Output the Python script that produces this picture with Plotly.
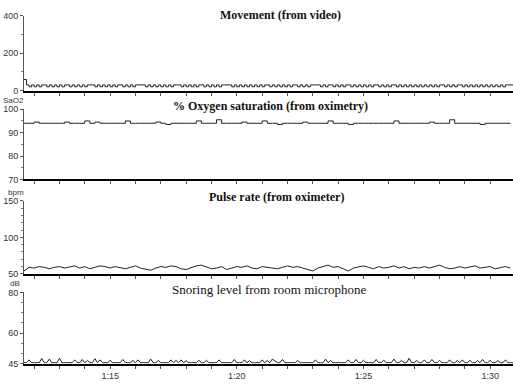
import numpy as np
import plotly.graph_objects as go

# time in minutes after 1:00 (71.6 -> 1:11:36)
T0 = 71.6
tick_vals = [75, 80, 85, 90]
tick_text = ["1:15", "1:20", "1:25", "1:30"]

movement = [60, 31, 21, 31, 21, 31, 21, 31, 31, 21, 31, 21, 31, 21, 31, 21, 31, 31, 21, 31,
            21, 31, 21, 31, 21, 31, 31, 31, 21, 31, 21, 31, 21, 31, 21, 31, 21, 31, 31, 21,
            31, 21, 31, 21, 31, 31, 31, 31, 21, 31, 21, 31, 21, 31, 21, 31, 21, 31, 21, 31,
            31, 31, 21, 31, 21, 31, 21, 31, 21, 31, 31, 21, 31, 21, 31, 21, 31, 21, 31, 31,
            31, 31, 21, 31, 21, 31, 21, 31, 21, 31, 21, 31, 21, 31, 21, 31, 31, 21, 31, 21,
            31, 21, 31, 21, 31, 21, 31, 31, 21, 31, 21, 31, 21, 31, 31, 31, 31, 21, 31, 21,
            31, 31, 21, 31, 21, 31, 21, 31, 31, 21, 31, 21, 31, 21, 31, 21, 31, 21, 31, 31,
            21, 31, 21, 31, 21, 31, 31, 21, 31, 21, 31, 21, 31, 21, 31, 21, 31, 21, 31, 21,
            31, 21, 31, 21, 31, 31, 21, 31, 21, 31, 21, 31, 31, 21, 31, 21, 31, 21, 31, 21,
            31, 21, 31, 21, 31, 21, 31, 21, 31, 21, 31, 31, 31, 31, 31, 31]

sao2 = [94, 94, 94.5, 94, 94, 94, 94, 94, 94.5, 94, 94, 94, 95, 94, 94.5, 94, 94, 94, 94, 94,
        95, 94, 94, 94, 94, 94, 94.5, 94, 93.5, 94, 94, 94, 94, 94, 95, 94, 94, 94, 95.5, 94,
        94, 94, 94, 94.5, 94, 94, 94, 95, 94, 94, 93.5, 94, 94, 94, 94, 94.5, 94, 94, 94, 94,
        95, 94, 94, 94, 93.5, 94, 94, 94, 94, 94, 94, 94, 94, 95, 94, 94, 94, 94, 94, 94,
        94.5, 94, 94, 94, 95.5, 94, 94, 94, 94, 94, 93.5, 94, 94, 94, 94, 94, 94]

pulse = [54, 59, 58, 60, 59, 57, 59, 60, 58, 59, 61, 58, 60, 57, 59, 61, 60, 58, 60, 59,
         57, 59, 61, 58, 56, 55, 58, 60, 59, 61, 60, 57, 56, 59, 61, 62, 59, 57, 58, 60,
         56, 58, 60, 59, 61, 58, 57, 60, 59, 58, 57, 59, 61, 59, 60, 58, 56, 54, 58, 60,
         62, 59, 60, 57, 54, 58, 60, 61, 59, 57, 60, 58, 59, 61, 58, 60, 57, 59, 58, 60,
         58, 60, 62, 59, 57, 58, 60, 58, 59, 61, 58, 59, 60, 57, 59, 60, 58]

snoring = [45.4, 45.4, 46.8, 45.4, 45.4, 45.4, 45.4, 47.5, 45.4, 45.4, 47.2, 45.4, 45.4, 45.4, 47.6, 45.4, 45.4, 45.4, 45.4, 45.4,
           46.8, 45.4, 45.4, 47.0, 45.4, 46.5, 45.4, 45.4, 47.4, 45.4, 46.8, 45.4, 45.4, 45.4, 46.6, 45.4, 45.4, 45.4, 45.4, 47.0,
           45.4, 45.4, 45.4, 46.5, 45.4, 46.8, 45.4, 45.4, 45.4, 45.4, 47.2, 45.4, 45.4, 46.5, 45.4, 45.4, 45.4, 45.4, 46.8, 45.4,
           46.5, 45.4, 46.8, 45.4, 46.4, 45.4, 45.4, 45.4, 45.4, 46.6, 45.4, 45.4, 46.6, 45.4, 45.4, 45.4, 45.4, 46.8, 45.4, 45.4,
           45.4, 45.4, 45.4, 47.0, 45.4, 45.4, 45.4, 46.8, 45.4, 46.4, 45.4, 45.4, 45.4, 45.4, 46.8, 45.4, 46.5, 45.4, 47.2, 46.5,
           45.4, 45.4, 47.0, 45.4, 45.4, 45.4, 45.4, 45.4, 46.5, 45.4, 45.4, 45.4, 45.4, 45.4, 45.4, 46.8, 45.4, 45.4, 45.4, 47.2,
           45.4, 46.5, 45.4, 45.4, 45.4, 45.4, 45.4, 45.4, 46.8, 45.4, 45.4, 47.0, 45.4, 45.4, 46.6, 45.4, 45.4, 45.4, 45.4, 47.0,
           45.4, 45.4, 46.6, 45.4, 45.4, 45.4, 47.2, 45.4, 45.4, 46.6, 45.4, 45.4, 47.6, 45.4, 45.4, 46.5, 45.4, 45.4, 46.8, 45.4,
           45.4, 47.0, 45.4, 45.4, 46.5, 45.4, 45.4, 45.4, 46.8, 45.4, 45.4, 46.5, 45.4, 46.8, 45.4, 45.4, 46.6, 45.4, 45.4, 46.5,
           45.4, 47.0, 45.4, 45.4, 46.6, 45.4, 45.4, 46.5, 45.4, 45.4, 46.8, 45.4, 45.4, 45.4]

titles = ["Movement (from video)", "% Oxygen saturation (from oximetry)",
          "Pulse rate (from oximeter)", "Snoring level from room microphone"]
units = ["", "SaO2", "bpm", "dB"]
y_ranges = [[0, 400], [70, 100], [50, 150], [45, 80]]
y_ticks = [[0, 200, 400], [70, 80, 90, 100], [50, 100, 150], [45, 60, 80]]
y_minor = [100, 5, 10, 5]

W, H = 513, 389
panels_px = [(11, 88), (107, 179), (201, 276), (295, 368)]
x_left = 24

def t_axis(n, step):
    return T0 + step * np.arange(n)

series = [
    (t_axis(len(movement), 0.1), movement, "hv"),
    (t_axis(len(sao2), 0.2), sao2, "hv"),
    (t_axis(len(pulse), 0.2), pulse, "linear"),
    (t_axis(len(snoring), 0.1), snoring, "linear"),
]

fig = go.Figure()
layout = dict(width=W, height=H, margin=dict(l=0, r=0, t=0, b=0),
              paper_bgcolor="white", plot_bgcolor="white", showlegend=False)
annotations = []
for i, (xs, ys, shape) in enumerate(series):
    k = "" if i == 0 else str(i + 1)
    fig.add_trace(go.Scatter(x=xs, y=ys, mode="lines", line=dict(color="#222222", width=1, shape=shape),
                             xaxis="x" + k, yaxis="y" + k, hoverinfo="skip"))
    top, bot = panels_px[i]
    dom = [1 - bot / H, 1 - top / H]
    layout["xaxis" + k] = dict(domain=[x_left / W, 1], anchor="y" + k, range=[T0, 90.9],
                               showgrid=False, zeroline=False, showline=True, linecolor="black",
                               linewidth=2, ticks="outside", ticklen=3, tickcolor="#555",
                               tickmode="array", tickvals=tick_vals, ticktext=tick_text,
                               showticklabels=(i == 3),
                               tickfont=dict(family="Liberation Sans", size=9, color="#333"),
                               minor=dict(dtick=1, tick0=0, ticks="outside", ticklen=3, tickcolor="#555"),
                               fixedrange=True)
    layout["yaxis" + k] = dict(domain=dom, anchor="x" + k, range=y_ranges[i], showgrid=False,
                               zeroline=False, showline=True, linecolor="#555", linewidth=1,
                               ticks="outside", ticklen=3, tickcolor="#555", tickmode="array",
                               tickvals=y_ticks[i], ticktext=[str(v) for v in y_ticks[i]],
                               tickfont=dict(family="Liberation Sans", size=9, color="#333"),
                               minor=dict(dtick=y_minor[i], tick0=0, ticks="outside", ticklen=2, tickcolor="#777"),
                               fixedrange=True)
    title_y = [10, 104, 197, 292][i]
    title_x = [280, 270, 276, 269][i]
    bold = i < 3
    annotations.append(dict(text=("<b>%s</b>" % titles[i]) if bold else titles[i],
                            x=title_x / W, y=1 - title_y / H, xref="paper", yref="paper",
                            showarrow=False, xanchor="center", yanchor="middle",
                            font=dict(family="Liberation Serif", size=12 if bold else 13, color="#111")))
    if units[i]:
        annotations.append(dict(text=units[i], x=[0, 13, 16, 15][i] / W, y=1 - (top - 9) / H,
                                xref="paper", yref="paper", showarrow=False,
                                xanchor="center", yanchor="middle",
                                font=dict(family="Liberation Sans", size=8, color="#333")))
layout["annotations"] = annotations
fig.update_layout(**layout)
fig.write_html("out.html")
